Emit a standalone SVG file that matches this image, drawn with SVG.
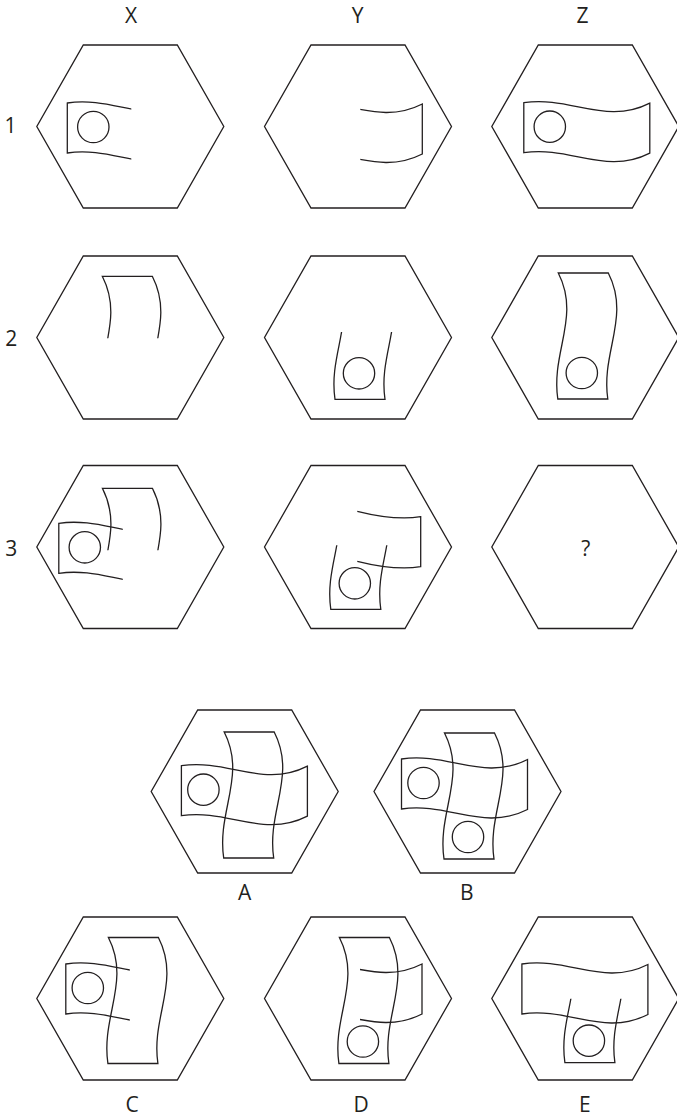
<svg xmlns="http://www.w3.org/2000/svg" xmlns:xlink="http://www.w3.org/1999/xlink" width="677" height="1118" viewBox="0 0 677 1118">
<style>
.ln{fill:none;stroke:#231f20;stroke-width:1.3;stroke-linejoin:miter}
.lb{font-family:"Open Sans","Liberation Sans",sans-serif;font-size:21px;fill:#231f20;text-anchor:middle}
</style>
<defs>
<polygon id="hex" points="-47,-81.5 47,-81.5 93.5,0 47,81.5 -47,81.5 -93.5,0"/>
<path id="H" d="M -62,-24 C -15,-31 20,-1 64,-23.5 L 64,26.5 C 20,49 -15,19 -62,26 Z"/>
<clipPath id="cl"><rect x="-90" y="-90" width="92" height="180"/></clipPath>
<clipPath id="cl5"><rect x="-90" y="-90" width="95.3" height="180"/></clipPath>
<clipPath id="cr"><rect x="2" y="-90" width="90" height="180"/></clipPath>
</defs>
<rect width="677" height="1118" fill="#ffffff"/>
<g id="labels">
<text class="lb" x="131" y="23.3">X</text>
<text class="lb" x="357.5" y="23.3">Y</text>
<text class="lb" x="582.5" y="23.3">Z</text>
<text class="lb" x="10.5" y="133.3">1</text>
<text class="lb" x="11.2" y="346">2</text>
<text class="lb" x="11.2" y="556">3</text>
</g>
<g id="connectors"/>
<g id="cell-X1" class="ln" transform="translate(130.3,126.5)">
<use href="#hex"/>
<g transform="translate(-1,0.5)"><g clip-path="url(#cl)"><use href="#H"/><circle cx="-36" cy="0" r="15.7"/></g></g>
</g>
<g id="cell-Y1" class="ln" transform="translate(358,126.5)">
<use href="#hex"/>
<g transform="translate(0.3,1)"><g clip-path="url(#cr)"><use href="#H"/></g></g>
</g>
<g id="cell-Z1" class="ln" transform="translate(585.3,126.5)">
<use href="#hex"/>
<g transform="translate(0.5,0.2)"><use href="#H"/><circle cx="-36" cy="0" r="15.7"/></g>
</g>
<g id="cell-X2" class="ln" transform="translate(130.3,337.5)">
<use href="#hex"/>
<g transform="translate(-4.5,2.8) rotate(-90)"><g clip-path="url(#cr)"><use href="#H"/></g></g>
</g>
<g id="cell-Y2" class="ln" transform="translate(358,337.5)">
<use href="#hex"/>
<g transform="translate(1,-0.2) rotate(-90)"><g clip-path="url(#cl5)"><use href="#H"/><circle cx="-36" cy="0" r="15.7"/></g></g>
</g>
<g id="cell-Z2" class="ln" transform="translate(585.3,337.5)">
<use href="#hex"/>
<g transform="translate(-3.5,-0.5) rotate(-90)"><use href="#H"/><circle cx="-36" cy="0" r="15.7"/></g>
</g>
<g id="cell-X3" class="ln" transform="translate(130.3,547)">
<use href="#hex"/>
<g transform="translate(-4.4,5.3) rotate(-90)"><g clip-path="url(#cr)"><use href="#H"/></g></g>
<g transform="translate(-9.5,0.3)"><g clip-path="url(#cl)"><use href="#H"/><circle cx="-36" cy="0" r="15.7"/></g></g>
</g>
<g id="cell-Y3" class="ln" transform="translate(358,547)">
<use href="#hex"/>
<g transform="translate(-3.2,0.3) rotate(-90)"><g clip-path="url(#cl)"><use href="#H"/><circle cx="-36" cy="0" r="15.7"/></g></g>
<path d="M -0.7,-35.7 C 22,-30 42,-27 62.7,-30.3 L 62.7,19.7 C 42,23 22,20 -0.7,14.3"/>
</g>
<g id="cell-Z3" class="ln" transform="translate(585.3,547)">
<use href="#hex"/>
<text class="lb" x="0.4" y="9" stroke="none">?</text>
</g>
<g id="option-A" class="ln" transform="translate(244.7,791.5)">
<use href="#hex"/>
<g transform="translate(-1.3,-1.8)"><use href="#H"/><circle cx="-40" cy="0" r="15.7"/></g>
<g transform="translate(3,4.5) rotate(-90)"><use href="#H"/></g>
<text class="lb" x="0" y="108.5" stroke="none">A</text>
</g>
<g id="option-B" class="ln" transform="translate(467.5,791.5)">
<use href="#hex"/>
<g transform="translate(0.5,5.5) rotate(-90)"><use href="#H"/><circle cx="-40" cy="0" r="15.7"/></g>
<g transform="translate(-4,-8.5)"><use href="#H"/><circle cx="-40" cy="0" r="15.7"/></g>
<text class="lb" x="-0.8" y="108.5" stroke="none">B</text>
</g>
<g id="option-C" class="ln" transform="translate(130.3,998.5)">
<use href="#hex"/>
<g transform="translate(-2.5,-10.5)"><g clip-path="url(#cl)"><use href="#H"/><circle cx="-40" cy="0" r="15.7"/></g></g>
<g transform="translate(1.6,3) rotate(-90)"><use href="#H"/></g>
<text class="lb" x="1.7" y="113" stroke="none">C</text>
</g>
<g id="option-D" class="ln" transform="translate(358,998.5)">
<use href="#hex"/>
<g transform="translate(4.9,3) rotate(-90)"><use href="#H"/><circle cx="-40" cy="0" r="15.7"/></g>
<g transform="translate(0,-11)"><g clip-path="url(#cr)"><use href="#H"/></g></g>
<text class="lb" x="3" y="113" stroke="none">D</text>
</g>
<g id="option-E" class="ln" transform="translate(585.3,998.5)">
<use href="#hex"/>
<g transform="translate(-1.4,-10.5)"><use href="#H"/></g>
<g transform="translate(3.6,2.2) rotate(-90)"><g clip-path="url(#cl)"><use href="#H"/><circle cx="-40" cy="0" r="15.7"/></g></g>
<text class="lb" x="-0.6" y="113" stroke="none">E</text>
</g>
</svg>
